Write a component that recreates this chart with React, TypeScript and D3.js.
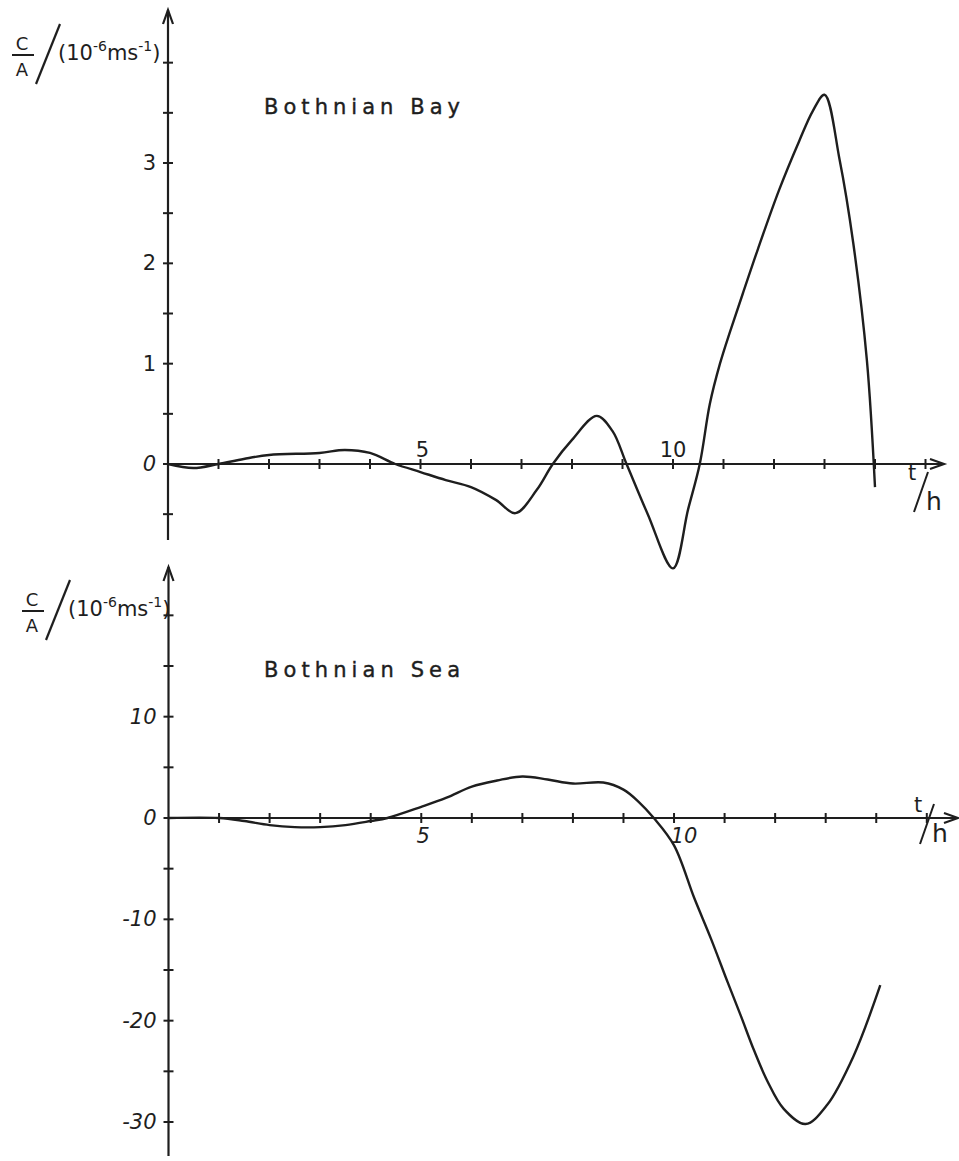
import React, { useEffect, useRef } from "react";
import * as d3 from "d3";

// Bothnian Bay, C/A in 1e-6 m/s against t in hours
const bayT = [0, 0.5, 1, 1.5, 2, 3, 3.5, 4, 4.5, 5, 5.5, 6, 6.5, 6.88, 7.3, 7.62, 8, 8.49, 8.8, 9.08, 9.5, 10, 10.3, 10.53, 10.73, 10.93, 11.13, 11.39, 11.68, 12.1, 12.5, 12.77, 13, 13.3, 13.57, 13.84, 14];
const bayC = [0, -0.04, 0, 0.05, 0.09, 0.11, 0.14, 0.11, 0, -0.08, -0.16, -0.23, -0.36, -0.49, -0.26, 0, 0.24, 0.48, 0.33, 0, -0.5, -1.04, -0.45, 0, 0.6, 1.0, 1.32, 1.71, 2.14, 2.73, 3.22, 3.52, 3.68, 3.03, 2.2, 1.03, -0.23];

// Bothnian Sea
const seaT = [0, 1, 1.5, 2, 2.5, 3, 3.5, 4, 4.33, 5, 5.5, 6, 6.5, 7, 7.5, 8, 8.6, 9, 9.3, 9.6, 10, 10.4, 10.73, 11.06, 11.32, 11.58, 11.85, 12.17, 12.6, 13.03, 13.55, 14.08];
const seaC = [0, 0, -0.3, -0.7, -0.9, -0.9, -0.7, -0.3, 0, 1.1, 2.0, 3.1, 3.7, 4.1, 3.8, 3.4, 3.5, 2.8, 1.6, 0, -2.7, -7.9, -11.9, -16.2, -19.5, -22.9, -26.0, -28.7, -30.2, -28.3, -23.5, -16.5];

const xTicks = d3.range(1, 16);
const xLabels = [5, 10];
const bayYTicks = d3.range(-0.5, 4.01, 0.5);
const bayYLabels = [0, 1, 2, 3];
const seaYTicks = d3.range(-30, 20.1, 5);
const seaYLabels = [10, 0, -10, -20, -30];

const ink = "#1e1e1e";
const font = "'DejaVu Sans', sans-serif";

function drawPanel(svg, p) {
  const g = svg.append("g");
  const x = d3.scaleLinear().domain([0, 15]).range(p.xRange);
  const y = d3.scaleLinear().domain(p.yDomain).range(p.yRange);
  const x0 = x(0);
  const y0 = y(0);

  // axes with open arrow heads
  g.append("line").attr("x1", x0).attr("x2", x0).attr("y1", p.yBottom).attr("y2", p.yTop)
    .attr("stroke", ink).attr("stroke-width", 2.2);
  g.append("path").attr("d", `M${x0 - 5},${p.yTop + 14}L${x0},${p.yTop}L${x0 + 5},${p.yTop + 14}`)
    .attr("fill", "none").attr("stroke", ink).attr("stroke-width", 2.2);
  g.append("line").attr("x1", x0).attr("x2", p.xEnd).attr("y1", y0).attr("y2", y0)
    .attr("stroke", ink).attr("stroke-width", 2.2);
  g.append("path").attr("d", `M${p.xEnd - 14},${y0 - 5}L${p.xEnd},${y0}L${p.xEnd - 14},${y0 + 5}`)
    .attr("fill", "none").attr("stroke", ink).attr("stroke-width", 2.2);

  g.selectAll(".xt").data(xTicks).enter().append("line")
    .attr("x1", (d) => x(d)).attr("x2", (d) => x(d))
    .attr("y1", y0 - 5).attr("y2", y0 + 5)
    .attr("stroke", ink).attr("stroke-width", 2);
  g.selectAll(".yt").data(p.yTicks).enter().append("line")
    .attr("x1", x0 - 5).attr("x2", x0 + 5)
    .attr("y1", (d) => y(d)).attr("y2", (d) => y(d))
    .attr("stroke", ink).attr("stroke-width", 2);

  g.selectAll(".yl").data(p.yLabels).enter().append("text")
    .attr("x", x0 - 12).attr("y", (d) => y(d) + 7)
    .attr("text-anchor", "end")
    .attr("font-family", font).attr("font-size", 21)
    .attr("font-style", (d) => (p.italic || d === 0 ? "italic" : "normal"))
    .attr("fill", ink)
    .text((d) => d);

  g.selectAll(".xl").data(xLabels).enter().append("text")
    .attr("x", (d) => x(d) + (d === 10 ? p.tenShift : 2))
    .attr("y", y0 + p.xLabelDy)
    .attr("text-anchor", "middle")
    .attr("font-family", font).attr("font-size", 21)
    .attr("font-style", p.italic ? "italic" : "normal")
    .attr("fill", ink)
    .text((d) => d);

  // t/h
  const th = g.append("g").attr("transform", `translate(${p.thX},${y0 + p.thDy})`);
  th.append("text").attr("x", 0).attr("y", 8).attr("font-family", font).attr("font-size", 21).attr("fill", ink).text("t");
  th.append("line").attr("x1", 6).attr("y1", 40).attr("x2", 20).attr("y2", 0).attr("stroke", ink).attr("stroke-width", 2);
  th.append("text").attr("x", 18).attr("y", 38).attr("font-family", font).attr("font-size", 25).attr("fill", ink).text("h");

  // y label
  const yl = g.append("g").attr("transform", `translate(${p.labX},${p.labY})`);
  yl.append("text").attr("x", 14).attr("y", 0).attr("text-anchor", "middle").attr("font-family", font).attr("font-size", 18).attr("fill", ink).text("C");
  yl.append("line").attr("x1", 4).attr("x2", 26).attr("y1", 5).attr("y2", 5).attr("stroke", ink).attr("stroke-width", 2);
  yl.append("text").attr("x", 14).attr("y", 26).attr("text-anchor", "middle").attr("font-family", font).attr("font-size", 18).attr("fill", ink).text("A");
  yl.append("line").attr("x1", 28).attr("y1", 34).attr("x2", 52).attr("y2", -26).attr("stroke", ink).attr("stroke-width", 2.2);
  const t = yl.append("text").attr("x", 50).attr("y", 10).attr("font-family", font).attr("font-size", 21).attr("fill", ink);
  t.append("tspan").text("(10");
  t.append("tspan").attr("dy", -9).attr("font-size", 14).text("-6");
  t.append("tspan").attr("dy", 9).text("ms");
  t.append("tspan").attr("dy", -9).attr("font-size", 14).text("-1");
  t.append("tspan").attr("dy", 9).text(")");

  g.append("text").attr("x", 264).attr("y", p.titleY)
    .attr("font-family", font).attr("font-size", 21).attr("fill", ink)
    .attr("stroke", ink).attr("stroke-width", 0.4)
    .attr("textLength", 196).attr("lengthAdjust", "spacing")
    .text(p.title);

  const line = d3.line().x((d) => x(d[0])).y((d) => y(d[1])).curve(d3.curveCatmullRom.alpha(0.5));
  g.append("path").attr("d", line(d3.zip(p.ts, p.cs)))
    .attr("fill", "none").attr("stroke", ink).attr("stroke-width", 2.4);
}

export default function App() {
  const svgRef = useRef(null);

  useEffect(() => {
    const svg = d3.select(svgRef.current);
    svg.selectAll("*").remove();

    drawPanel(svg, {
      title: "Bothnian Bay", titleY: 114,
      xRange: [168, 925.5], yDomain: [0, 3], yRange: [464, 163],
      yTop: 10, yBottom: 540, xEnd: 944,
      yTicks: bayYTicks, yLabels: bayYLabels, italic: false,
      xLabelDy: -7, tenShift: 0, thX: 908, thDy: 8,
      labX: 8, labY: 50,
      ts: bayT, cs: bayC,
    });

    drawPanel(svg, {
      title: "Bothnian Sea", titleY: 677,
      xRange: [168.5, 926.8], yDomain: [0, -30], yRange: [818, 1122],
      yTop: 567, yBottom: 1156, xEnd: 958,
      yTicks: seaYTicks, yLabels: seaYLabels, italic: true,
      xLabelDy: 25, tenShift: 10, thX: 914, thDy: -14,
      labX: 18, labY: 606,
      ts: seaT, cs: seaC,
    });
  }, []);

  return (
    <svg ref={svgRef} width={959} height={1161} style={{ position: "absolute", left: 0, top: 0, background: "#fff" }} />
  );
}
